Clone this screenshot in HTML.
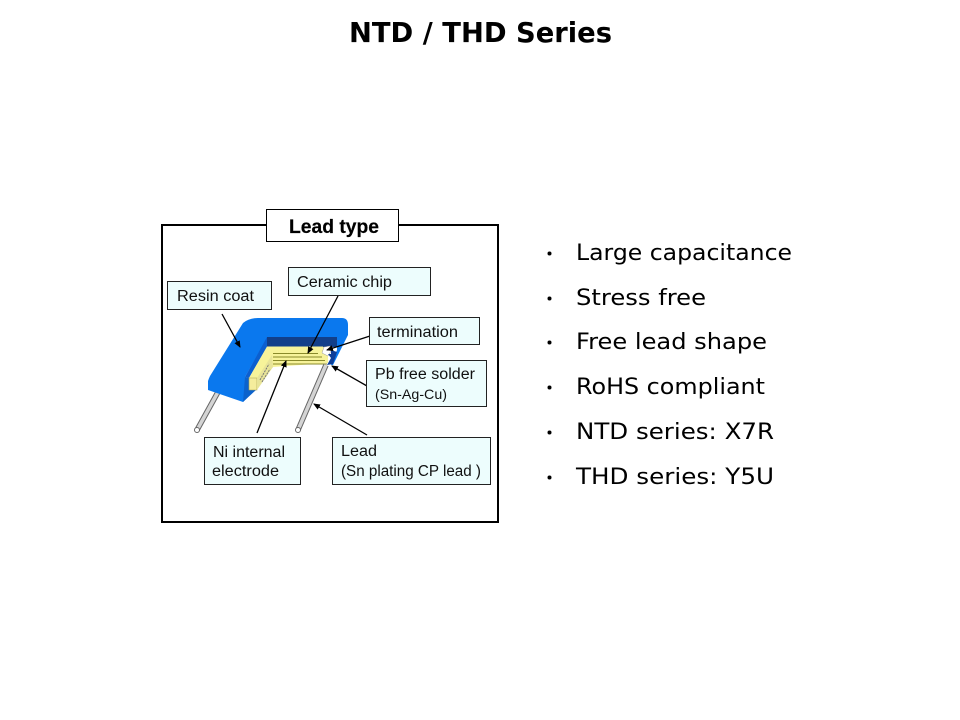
<!DOCTYPE html>
<html><head><meta charset="utf-8"><style>
html,body{margin:0;padding:0;background:#fff;width:960px;height:720px;overflow:hidden}
svg{display:block}
.v{font-family:"DejaVu Sans",sans-serif;fill:#000}
.l{font-family:"Liberation Sans",Arial,sans-serif;fill:#111;font-size:15.500px}
.b{fill:#edfdfd;stroke:#222;stroke-width:1}
</style></head><body>
<svg width="960" height="720" viewBox="0 0 960 720" xmlns="http://www.w3.org/2000/svg">
<defs><marker id="a" markerWidth="8" markerHeight="8" refX="6" refY="3" orient="auto" markerUnits="userSpaceOnUse"><path d="M0,0L7,3L0,6z" fill="#000"/></marker></defs>
<text class="v" x="349" y="42" font-size="27.500" font-weight="bold" textLength="263" lengthAdjust="spacingAndGlyphs">NTD / THD Series</text>

<rect x="162" y="225" width="336" height="297" fill="#fff" stroke="#000" stroke-width="2"/>
<rect x="266.500" y="209.500" width="132" height="32" fill="#fff" stroke="#000"/>
<text x="289" y="233" font-family="Liberation Sans,sans-serif" font-size="19" font-weight="bold" textLength="90" lengthAdjust="spacingAndGlyphs" stroke="#000" stroke-width=".2">Lead type</text>

<!-- left lead -->
<g stroke-linecap="butt" fill="none">
<line x1="197" y1="430" x2="218" y2="392" stroke="#666" stroke-width="5.500"/>
<line x1="197" y1="430" x2="218" y2="392" stroke="#d4d4d4" stroke-width="3.500"/>
</g>
<circle cx="197" cy="430" r="2.500" fill="#fff" stroke="#666" stroke-width="1"/>

<!-- body -->
<path d="M258,318H342Q348,318 348,325V335L333,365L331,365L337,350V338H267L245,377L249,378V390H255L243,402L208,390V381Q209,378 210,376L243,323Q249,318 258,318Z" fill="#0a78ee"/>
<path d="M245,377L249,378V390H256L243,402Z" fill="#0b62cc"/>
<path d="M267,337V347L249,378L245,377Z" fill="#0b5fd0"/>
<path d="M267,337H337V347H267Z" fill="#123f8a"/>

<!-- chip -->
<path d="M267,346.500H323L328,355V363L273,367L257,382V378H249Z" fill="#f7f39a"/>
<path d="M249,378H257V390H249Z" fill="#f5ed9c" stroke="#a8a050" stroke-width=".6"/>
<path d="M257,378L272,355L273,367L257,390Z" fill="#e8e498"/>
<g stroke="#8a8a2a" stroke-width="1" fill="none">
<path d="M273,353.500H318M273,357H322M273,360.500H325M273,364H327"/>
<path d="M262,382L270,369M260,380L269,364" stroke="#777" stroke-dasharray="2 1"/>
</g>

<!-- solder -->
<path d="M324,347L330,346L331,351L328,356L322,353Z" fill="#fff" stroke="#999" stroke-width=".5"/>
<path d="M328,354H331V350L337,352L333,364L327,365L331,358Z" fill="#0f3f98"/>

<!-- right lead -->
<g fill="none">
<line x1="298" y1="430" x2="326" y2="365" stroke="#666" stroke-width="5.500"/>
<line x1="298" y1="430" x2="326" y2="365" stroke="#d4d4d4" stroke-width="3.500"/>
</g>
<circle cx="298" cy="430" r="2.500" fill="#fff" stroke="#666" stroke-width="1"/>

<!-- connectors -->
<g stroke="#000" stroke-width="1.300" fill="none" marker-end="url(#a)">
<line x1="222" y1="314" x2="240" y2="347"/>
<line x1="338" y1="296" x2="308" y2="353"/>
<line x1="370" y1="336" x2="327" y2="350"/>
<line x1="367" y1="386" x2="332" y2="366"/>
<line x1="257" y1="433" x2="286" y2="361"/>
<line x1="367" y1="435" x2="314" y2="404"/>
</g>

<!-- labels -->
<rect class="b" x="167.500" y="281.500" width="104" height="28"/>
<text class="l" x="177" y="301" textLength="77" lengthAdjust="spacingAndGlyphs">Resin coat</text>
<rect class="b" x="288.500" y="267.500" width="142" height="28"/>
<text class="l" x="297" y="287" textLength="95" lengthAdjust="spacingAndGlyphs">Ceramic chip</text>
<rect class="b" x="369.500" y="317.500" width="110" height="27"/>
<text class="l" x="377" y="337" textLength="81" lengthAdjust="spacingAndGlyphs">termination</text>
<rect class="b" x="366.500" y="360.500" width="120" height="46"/>
<text class="l" x="375" y="379" textLength="100" lengthAdjust="spacingAndGlyphs">Pb free solder</text>
<text class="l" x="375" y="399" style="font-size:14px" textLength="72" lengthAdjust="spacingAndGlyphs">(Sn-Ag-Cu)</text>
<rect class="b" x="204.500" y="437.500" width="96" height="47"/>
<text class="l" x="213" y="457" textLength="72" lengthAdjust="spacingAndGlyphs">Ni internal</text>
<text class="l" x="212" y="476" textLength="67" lengthAdjust="spacingAndGlyphs">electrode</text>
<rect class="b" x="332.500" y="437.500" width="158" height="47"/>
<text class="l" x="341" y="456" textLength="36" lengthAdjust="spacingAndGlyphs">Lead</text>
<text class="l" x="341" y="476" textLength="140" lengthAdjust="spacingAndGlyphs">(Sn plating CP lead )</text>

<!-- bullets -->
<g font-size="22.500">
<circle cx="549.500" cy="253.500" r="2"/><text class="v" x="576" y="260" textLength="216" lengthAdjust="spacingAndGlyphs">Large capacitance</text>
<circle cx="549.500" cy="298.500" r="2"/><text class="v" x="576" y="305" textLength="130" lengthAdjust="spacingAndGlyphs">Stress free</text>
<circle cx="549.500" cy="342.500" r="2"/><text class="v" x="576" y="349" textLength="191" lengthAdjust="spacingAndGlyphs">Free lead shape</text>
<circle cx="549.500" cy="387.500" r="2"/><text class="v" x="576" y="394" textLength="189" lengthAdjust="spacingAndGlyphs">RoHS compliant</text>
<circle cx="549.500" cy="432.500" r="2"/><text class="v" x="576" y="439" textLength="198" lengthAdjust="spacingAndGlyphs">NTD series: X7R</text>
<circle cx="549.500" cy="477.500" r="2"/><text class="v" x="576" y="484" textLength="198" lengthAdjust="spacingAndGlyphs">THD series: Y5U</text>
</g>
</svg>
</body></html>
